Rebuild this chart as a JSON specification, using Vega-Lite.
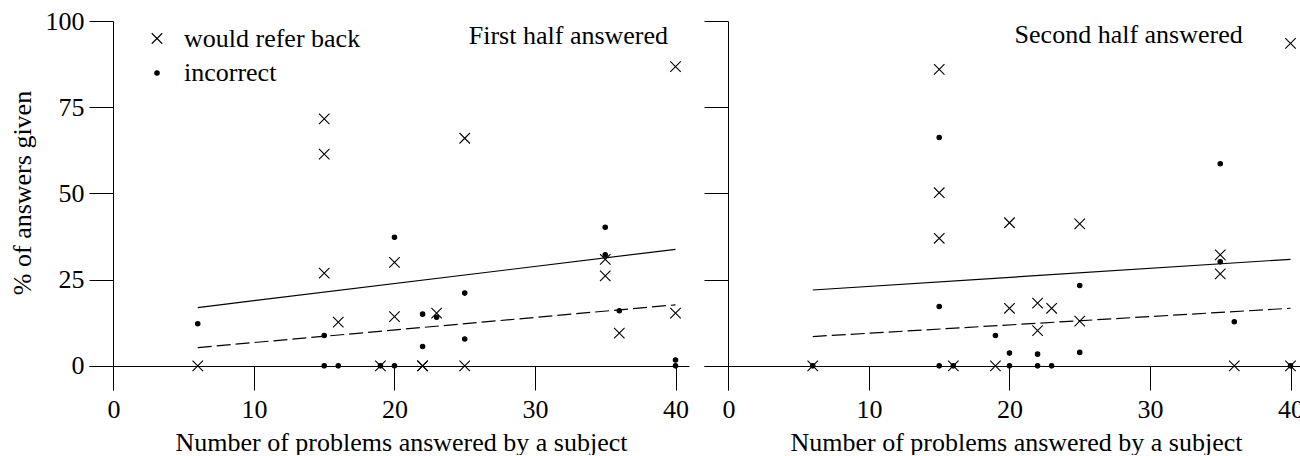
{
  "$schema": "https://vega.github.io/schema/vega-lite/v6.json",
  "padding": {"left": 9, "top": 8, "right": 0, "bottom": 0},
  "background": "white",
  "spacing": 14,
  "datasets": {
    "points": [
      {"panel": "First half answered", "type": "would refer back", "n": 6, "pct": 0},
      {"panel": "First half answered", "type": "would refer back", "n": 15, "pct": 71.6},
      {"panel": "First half answered", "type": "would refer back", "n": 15, "pct": 61.4},
      {"panel": "First half answered", "type": "would refer back", "n": 15, "pct": 26.9},
      {"panel": "First half answered", "type": "would refer back", "n": 16, "pct": 12.7},
      {"panel": "First half answered", "type": "would refer back", "n": 19, "pct": 0},
      {"panel": "First half answered", "type": "would refer back", "n": 20, "pct": 30.0},
      {"panel": "First half answered", "type": "would refer back", "n": 20, "pct": 14.3},
      {"panel": "First half answered", "type": "would refer back", "n": 22, "pct": 0},
      {"panel": "First half answered", "type": "would refer back", "n": 22, "pct": 0},
      {"panel": "First half answered", "type": "would refer back", "n": 23, "pct": 15.3},
      {"panel": "First half answered", "type": "would refer back", "n": 25, "pct": 66.0},
      {"panel": "First half answered", "type": "would refer back", "n": 25, "pct": 0},
      {"panel": "First half answered", "type": "would refer back", "n": 35, "pct": 30.9},
      {"panel": "First half answered", "type": "would refer back", "n": 35, "pct": 26.1},
      {"panel": "First half answered", "type": "would refer back", "n": 36, "pct": 9.5},
      {"panel": "First half answered", "type": "would refer back", "n": 40, "pct": 86.8},
      {"panel": "First half answered", "type": "would refer back", "n": 40, "pct": 15.3},
      {"panel": "First half answered", "type": "incorrect", "n": 6, "pct": 12.2},
      {"panel": "First half answered", "type": "incorrect", "n": 15, "pct": 8.8},
      {"panel": "First half answered", "type": "incorrect", "n": 15, "pct": 0},
      {"panel": "First half answered", "type": "incorrect", "n": 16, "pct": 0},
      {"panel": "First half answered", "type": "incorrect", "n": 19, "pct": 0},
      {"panel": "First half answered", "type": "incorrect", "n": 20, "pct": 37.3},
      {"panel": "First half answered", "type": "incorrect", "n": 20, "pct": 0},
      {"panel": "First half answered", "type": "incorrect", "n": 22, "pct": 15.0},
      {"panel": "First half answered", "type": "incorrect", "n": 22, "pct": 5.6},
      {"panel": "First half answered", "type": "incorrect", "n": 23, "pct": 14.1},
      {"panel": "First half answered", "type": "incorrect", "n": 25, "pct": 21.1},
      {"panel": "First half answered", "type": "incorrect", "n": 25, "pct": 7.8},
      {"panel": "First half answered", "type": "incorrect", "n": 35, "pct": 40.2},
      {"panel": "First half answered", "type": "incorrect", "n": 35, "pct": 32.2},
      {"panel": "First half answered", "type": "incorrect", "n": 36, "pct": 16.0},
      {"panel": "First half answered", "type": "incorrect", "n": 40, "pct": 1.7},
      {"panel": "First half answered", "type": "incorrect", "n": 40, "pct": 0},
      {"panel": "Second half answered", "type": "would refer back", "n": 6, "pct": 0},
      {"panel": "Second half answered", "type": "would refer back", "n": 15, "pct": 86.0},
      {"panel": "Second half answered", "type": "would refer back", "n": 15, "pct": 50.2},
      {"panel": "Second half answered", "type": "would refer back", "n": 15, "pct": 37.0},
      {"panel": "Second half answered", "type": "would refer back", "n": 16, "pct": 0},
      {"panel": "Second half answered", "type": "would refer back", "n": 19, "pct": 0},
      {"panel": "Second half answered", "type": "would refer back", "n": 20, "pct": 41.5},
      {"panel": "Second half answered", "type": "would refer back", "n": 20, "pct": 16.7},
      {"panel": "Second half answered", "type": "would refer back", "n": 22, "pct": 18.2},
      {"panel": "Second half answered", "type": "would refer back", "n": 22, "pct": 10.2},
      {"panel": "Second half answered", "type": "would refer back", "n": 23, "pct": 16.7},
      {"panel": "Second half answered", "type": "would refer back", "n": 25, "pct": 41.2},
      {"panel": "Second half answered", "type": "would refer back", "n": 25, "pct": 13.0},
      {"panel": "Second half answered", "type": "would refer back", "n": 35, "pct": 32.2},
      {"panel": "Second half answered", "type": "would refer back", "n": 35, "pct": 26.7},
      {"panel": "Second half answered", "type": "would refer back", "n": 36, "pct": 0},
      {"panel": "Second half answered", "type": "would refer back", "n": 40, "pct": 93.5},
      {"panel": "Second half answered", "type": "would refer back", "n": 40, "pct": 0},
      {"panel": "Second half answered", "type": "incorrect", "n": 6, "pct": 0},
      {"panel": "Second half answered", "type": "incorrect", "n": 15, "pct": 66.2},
      {"panel": "Second half answered", "type": "incorrect", "n": 15, "pct": 17.2},
      {"panel": "Second half answered", "type": "incorrect", "n": 15, "pct": 0},
      {"panel": "Second half answered", "type": "incorrect", "n": 16, "pct": 0},
      {"panel": "Second half answered", "type": "incorrect", "n": 19, "pct": 8.8},
      {"panel": "Second half answered", "type": "incorrect", "n": 20, "pct": 3.7},
      {"panel": "Second half answered", "type": "incorrect", "n": 20, "pct": 0},
      {"panel": "Second half answered", "type": "incorrect", "n": 22, "pct": 3.4},
      {"panel": "Second half answered", "type": "incorrect", "n": 22, "pct": 0},
      {"panel": "Second half answered", "type": "incorrect", "n": 23, "pct": 0},
      {"panel": "Second half answered", "type": "incorrect", "n": 25, "pct": 23.3},
      {"panel": "Second half answered", "type": "incorrect", "n": 25, "pct": 3.9},
      {"panel": "Second half answered", "type": "incorrect", "n": 35, "pct": 58.6},
      {"panel": "Second half answered", "type": "incorrect", "n": 35, "pct": 30.2},
      {"panel": "Second half answered", "type": "incorrect", "n": 36, "pct": 12.8},
      {"panel": "Second half answered", "type": "incorrect", "n": 40, "pct": 0}
    ],
    "fits": [
      {"panel": "First half answered", "type": "would refer back", "n": 6, "pct": 16.9},
      {"panel": "First half answered", "type": "would refer back", "n": 40, "pct": 33.8},
      {"panel": "First half answered", "type": "incorrect", "n": 6, "pct": 5.3},
      {"panel": "First half answered", "type": "incorrect", "n": 40, "pct": 17.7},
      {"panel": "Second half answered", "type": "would refer back", "n": 6, "pct": 22.0},
      {"panel": "Second half answered", "type": "would refer back", "n": 40, "pct": 30.9},
      {"panel": "Second half answered", "type": "incorrect", "n": 6, "pct": 8.5},
      {"panel": "Second half answered", "type": "incorrect", "n": 40, "pct": 16.7}
    ],
    "panels": [
      {"panel": "First half answered"},
      {"panel": "Second half answered"}
    ]
  },
  "resolve": {"scale": {"shape": "independent", "fill": "independent", "size": "independent"}},
  "hconcat": [
    {
      "width": 600,
      "height": 369,
      "layer": [
        {
          "data": {"name": "fits"},
          "transform": [{"filter": "datum.panel === 'First half answered' && datum.type === 'would refer back'"}],
          "mark": {"type": "line", "color": "black", "strokeWidth": 1.2},
          "encoding": {
            "x": {"field": "n", "type": "quantitative", "scale": {"domain": [-1.74, 40.96], "nice": false, "zero": false},
                  "axis": {"values": [0, 10, 20, 30, 40], "offset": -24, "labelPadding": 6, "title": "Number of problems answered by a subject", "titleX": 312, "titleY": 84, "titleBaseline": "alphabetic", "titleAlign": "center", "labelFlush": false, "labelOverlap": false}},
            "y": {"field": "pct", "type": "quantitative", "scale": {"domain": [-7, 100], "nice": false, "zero": false},
                  "axis": {"values": [0, 25, 50, 75, 100], "offset": -24, "labelPadding": 5, "title": "% of answers given", "titleX": -83, "titleY": 171.5, "titleAngle": 270, "titleBaseline": "alphabetic", "titleAlign": "center", "labelFlush": false, "labelOverlap": false}}
          }
        },
        {
          "data": {"name": "fits"},
          "transform": [{"filter": "datum.panel === 'First half answered' && datum.type === 'incorrect'"}],
          "mark": {"type": "line", "color": "black", "strokeWidth": 1.2, "strokeDash": [14, 5]},
          "encoding": {
            "x": {"field": "n", "type": "quantitative"},
            "y": {"field": "pct", "type": "quantitative"}
          }
        },
        {
          "data": {"name": "points"},
          "transform": [{"filter": "datum.panel === 'First half answered'"}],
          "mark": {"type": "point", "strokeWidth": 1.1, "opacity": 1, "stroke": "black"},
          "encoding": {
            "x": {"field": "n", "type": "quantitative"},
            "y": {"field": "pct", "type": "quantitative"},
            "shape": {"field": "type", "type": "nominal", "scale": {"domain": ["would refer back", "incorrect"], "range": ["M-1,-1L1,1M-1,1L1,-1", "circle"]},
                      "legend": {"orient": "none", "legendX": 55, "legendY": 4.5, "title": null, "labelFont": "Liberation Serif", "labelFontSize": 26, "labelColor": "black", "labelLimit": 0, "rowPadding": 8.5, "labelOffset": 14, "padding": 0, "symbolStrokeWidth": 1.1, "symbolStrokeColor": "black"}},
            "fill": {"field": "type", "type": "nominal", "scale": {"domain": ["would refer back", "incorrect"], "range": ["transparent", "black"]}},
            "size": {"field": "type", "type": "nominal", "scale": {"domain": ["would refer back", "incorrect"], "range": [110, 20]}}
          }
        },
        {
          "data": {"name": "panels"},
          "transform": [{"filter": "datum.panel === 'First half answered'"}],
          "mark": {"type": "text", "align": "right", "baseline": "alphabetic", "font": "Liberation Serif", "fontSize": 26, "color": "black"},
          "encoding": {
            "x": {"datum": 39.47, "type": "quantitative"},
            "y": {"datum": 93.3, "type": "quantitative"},
            "text": {"field": "panel"}
          }
        }
      ]
    },
    {
      "width": 600,
      "height": 369,
      "layer": [
        {
          "data": {"name": "fits"},
          "transform": [{"filter": "datum.panel === 'Second half answered' && datum.type === 'would refer back'"}],
          "mark": {"type": "line", "color": "black", "strokeWidth": 1.2},
          "encoding": {
            "x": {"field": "n", "type": "quantitative", "scale": {"domain": [-1.74, 40.96], "nice": false, "zero": false},
                  "axis": {"values": [0, 10, 20, 30, 40], "offset": -24, "labelPadding": 6, "title": "Number of problems answered by a subject", "titleX": 312, "titleY": 84, "titleBaseline": "alphabetic", "titleAlign": "center", "labelFlush": false, "labelOverlap": false}},
            "y": {"field": "pct", "type": "quantitative", "scale": {"domain": [-7, 100], "nice": false, "zero": false},
                  "axis": {"values": [0, 25, 50, 75, 100], "offset": -24, "labels": false, "title": null}}
          }
        },
        {
          "data": {"name": "fits"},
          "transform": [{"filter": "datum.panel === 'Second half answered' && datum.type === 'incorrect'"}],
          "mark": {"type": "line", "color": "black", "strokeWidth": 1.2, "strokeDash": [14, 5]},
          "encoding": {
            "x": {"field": "n", "type": "quantitative"},
            "y": {"field": "pct", "type": "quantitative"}
          }
        },
        {
          "data": {"name": "points"},
          "transform": [{"filter": "datum.panel === 'Second half answered'"}],
          "mark": {"type": "point", "strokeWidth": 1.1, "opacity": 1, "stroke": "black"},
          "encoding": {
            "x": {"field": "n", "type": "quantitative"},
            "y": {"field": "pct", "type": "quantitative"},
            "shape": {"field": "type", "type": "nominal", "scale": {"domain": ["would refer back", "incorrect"], "range": ["M-1,-1L1,1M-1,1L1,-1", "circle"]}, "legend": null},
            "fill": {"field": "type", "type": "nominal", "scale": {"domain": ["would refer back", "incorrect"], "range": ["transparent", "black"]}, "legend": null},
            "size": {"field": "type", "type": "nominal", "scale": {"domain": ["would refer back", "incorrect"], "range": [110, 20]}, "legend": null}
          }
        },
        {
          "data": {"name": "panels"},
          "transform": [{"filter": "datum.panel === 'Second half answered'"}],
          "mark": {"type": "text", "align": "right", "baseline": "alphabetic", "font": "Liberation Serif", "fontSize": 26, "color": "black"},
          "encoding": {
            "x": {"datum": 36.6, "type": "quantitative"},
            "y": {"datum": 93.6, "type": "quantitative"},
            "text": {"field": "panel"}
          }
        }
      ]
    }
  ],
  "config": {
    "view": {"stroke": null},
    "font": "Liberation Serif",
    "axis": {
      "domainColor": "black", "tickColor": "black", "labelColor": "black", "titleColor": "black",
      "labelFont": "Liberation Serif", "titleFont": "Liberation Serif",
      "labelFontSize": 26, "titleFontSize": 26, "titleFontWeight": "normal",
      "grid": false, "tickSize": 24, "domainWidth": 1, "tickWidth": 1
    }
  }
}
